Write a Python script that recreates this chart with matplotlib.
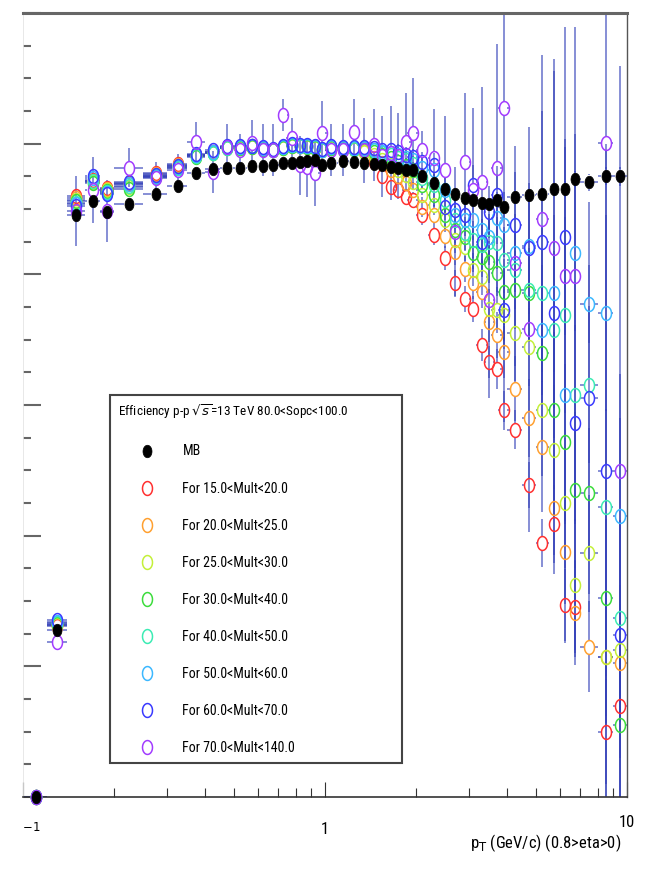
import numpy as np
import matplotlib
matplotlib.use('Agg')
import matplotlib.pyplot as plt
from matplotlib.path import Path
from matplotlib.transforms import Bbox, TransformedBbox, blended_transform_factory
from matplotlib.ticker import FixedLocator, NullFormatter

fams = ['Liberation Sans Narrow', 'Roboto Condensed', 'Open Sans Condensed',
        'DejaVu Sans Condensed', 'Liberation Sans', 'DejaVu Sans']
plt.rcParams['font.family'] = fams

nan = np.nan

# pT bin edges (GeV/c)
edges = [0.10, 0.12, 0.14, 0.16, 0.18, 0.20, 0.25, 0.30, 0.35, 0.40, 0.45,
         0.50, 0.55, 0.60, 0.65, 0.70, 0.75, 0.80, 0.85, 0.90, 0.95, 1.0,
         1.1, 1.2, 1.3, 1.4, 1.5, 1.6, 1.7, 1.8, 1.9, 2.0,
         2.2, 2.4, 2.6, 2.8, 3.0, 3.2, 3.4, 3.6, 3.8, 4.0,
         4.5, 5.0, 5.5, 6.0, 6.5, 7.0, 8.0, 9.0, 10.0]

mb = [0.000, 0.256, 0.891, 0.912, 0.895, 0.908, 0.923, 0.935, 0.955, 0.961,
      0.962, 0.963, 0.966, 0.966, 0.967, 0.970, 0.971, 0.972, 0.973, 0.975,
      0.968, 0.971, 0.973, 0.972, 0.971, 0.969, 0.967, 0.965, 0.962, 0.960,
      0.959, 0.951, 0.940, 0.931, 0.923, 0.917, 0.914, 0.909, 0.908, 0.914,
      0.903, 0.918, 0.921, 0.923, 0.931, 0.931, 0.946, 0.941, 0.950, 0.950]
mb_err = [0.000, 0.008, 0.006, 0.005, 0.005, 0.004, 0.004, 0.004, 0.004, 0.004,
          0.004, 0.004, 0.004, 0.004, 0.004, 0.004, 0.004, 0.004, 0.004, 0.004,
          0.004, 0.004, 0.004, 0.004, 0.004, 0.004, 0.004, 0.004, 0.004, 0.004,
          0.004, 0.005, 0.005, 0.005, 0.006, 0.006, 0.006, 0.007, 0.007, 0.008,
          0.008, 0.009, 0.010, 0.010, 0.011, 0.012, 0.012, 0.013, 0.014, 0.015]

m15_20 = [0.000, 0.262, 0.920, 0.944, 0.932, 0.940, 0.955, 0.969, 0.983, 0.987,
          0.995, 0.995, 0.997, 0.993, 0.990, 0.995, 0.998, 0.997, 0.997, 0.995,
          0.990, 0.995, 0.993, 0.992, 0.990, 0.972, 0.951, 0.934, 0.929, 0.918,
          0.914, 0.891, 0.860, 0.825, 0.787, 0.762, 0.747, 0.692, 0.666, 0.655,
          0.592, 0.562, 0.478, 0.389, 0.418, 0.294, 0.291, nan, 0.100, 0.139]
m15_20_err = [0.000, 0.006, 0.010, 0.010, 0.010, 0.008, 0.008, 0.008, 0.008, 0.008,
              0.008, 0.008, 0.008, 0.008, 0.008, 0.008, 0.008, 0.008, 0.008, 0.008,
              0.008, 0.008, 0.008, 0.008, 0.010, 0.010, 0.010, 0.010, 0.012, 0.012,
              0.012, 0.015, 0.015, 0.018, 0.020, 0.020, 0.020, 0.025, 0.025, 0.030,
              0.030, 0.030, 0.035, 0.037, 0.060, 0.055, 0.070, nan, 0.080, 0.080]

m20_25 = [0.000, 0.263, 0.917, 0.943, 0.931, 0.938, 0.954, 0.967, 0.983, 0.987,
          0.995, 0.993, 0.995, 0.992, 0.990, 0.993, 0.997, 0.996, 0.995, 0.993,
          0.990, 0.993, 0.992, 0.992, 0.987, 0.978, 0.970, 0.960, 0.951, 0.940,
          0.929, 0.903, 0.891, 0.859, 0.834, 0.808, 0.787, 0.773, 0.727, 0.707,
          0.681, 0.625, 0.580, 0.536, 0.442, 0.375, 0.282, 0.230, 0.214, 0.205]
m20_25_err = [0.000, 0.006, 0.010, 0.010, 0.010, 0.008, 0.008, 0.008, 0.008, 0.008,
              0.008, 0.008, 0.008, 0.008, 0.008, 0.008, 0.008, 0.008, 0.008, 0.008,
              0.008, 0.008, 0.008, 0.008, 0.010, 0.010, 0.010, 0.010, 0.012, 0.012,
              0.012, 0.015, 0.015, 0.018, 0.020, 0.020, 0.025, 0.025, 0.030, 0.035,
              0.040, 0.050, 0.060, 0.100, 0.100, 0.080, 0.080, 0.070, 0.090, 0.090]

m25_30 = [0.000, 0.263, 0.914, 0.941, 0.929, 0.934, 0.951, 0.966, 0.981, 0.986,
          0.993, 0.993, 0.995, 0.992, 0.990, 0.993, 0.997, 0.996, 0.995, 0.993,
          0.990, 0.993, 0.992, 0.992, 0.987, 0.983, 0.975, 0.967, 0.960, 0.952,
          0.941, 0.921, 0.906, 0.883, 0.853, 0.842, 0.807, 0.796, 0.747, 0.745,
          0.738, 0.710, 0.689, 0.592, 0.531, 0.450, 0.325, 0.373, 0.214, 0.225]
m25_30_err = [0.000, 0.006, 0.010, 0.010, 0.010, 0.008, 0.008, 0.008, 0.008, 0.008,
              0.008, 0.008, 0.008, 0.008, 0.008, 0.008, 0.008, 0.008, 0.008, 0.008,
              0.008, 0.008, 0.008, 0.008, 0.010, 0.010, 0.010, 0.010, 0.012, 0.012,
              0.012, 0.015, 0.015, 0.018, 0.020, 0.022, 0.025, 0.028, 0.030, 0.035,
              0.040, 0.050, 0.060, 0.100, 0.100, 0.100, 0.100, 0.090, 0.100, 0.100]

m30_40 = [0.000, 0.265, 0.912, 0.940, 0.928, 0.931, 0.949, 0.963, 0.980, 0.986,
          0.993, 0.993, 0.995, 0.992, 0.990, 0.993, 0.997, 0.996, 0.995, 0.993,
          0.990, 0.993, 0.992, 0.992, 0.990, 0.987, 0.983, 0.978, 0.972, 0.966,
          0.960, 0.937, 0.921, 0.891, 0.868, 0.857, 0.833, 0.827, 0.819, 0.802,
          0.773, 0.776, 0.771, 0.680, 0.592, 0.543, 0.470, 0.465, 0.305, 0.110]
m30_40_err = [0.000, 0.006, 0.010, 0.010, 0.010, 0.008, 0.008, 0.008, 0.008, 0.008,
              0.008, 0.008, 0.008, 0.008, 0.008, 0.008, 0.008, 0.008, 0.008, 0.008,
              0.008, 0.008, 0.008, 0.008, 0.010, 0.010, 0.010, 0.010, 0.012, 0.012,
              0.012, 0.015, 0.016, 0.018, 0.020, 0.022, 0.025, 0.030, 0.032, 0.035,
              0.050, 0.060, 0.070, 0.100, 0.120, 0.120, 0.120, 0.100, 0.120, 0.120]

m40_50 = [0.000, 0.266, 0.909, 0.943, 0.926, 0.935, 0.949, 0.963, 0.981, 0.986,
          0.993, 0.995, 0.997, 0.993, 0.990, 0.995, 0.998, 0.997, 0.997, 0.995,
          0.990, 0.995, 0.993, 0.992, 0.992, 0.990, 0.986, 0.983, 0.978, 0.975,
          0.969, 0.947, 0.937, 0.914, 0.883, 0.863, 0.853, 0.845, 0.850, 0.848,
          0.822, 0.807, 0.776, 0.771, 0.715, 0.738, 0.615, 0.631, 0.444, 0.274]
m40_50_err = [0.000, 0.006, 0.010, 0.010, 0.010, 0.008, 0.008, 0.008, 0.008, 0.008,
              0.008, 0.008, 0.008, 0.008, 0.008, 0.008, 0.008, 0.008, 0.008, 0.008,
              0.008, 0.008, 0.008, 0.008, 0.010, 0.010, 0.010, 0.010, 0.012, 0.012,
              0.012, 0.015, 0.016, 0.020, 0.022, 0.025, 0.028, 0.030, 0.035, 0.040,
              0.050, 0.060, 0.080, 0.100, 0.120, 0.150, 0.400, 0.120, 0.150, 0.150]

m50_60 = [0.000, 0.268, 0.908, 0.947, 0.925, 0.938, 0.951, 0.964, 0.983, 0.987,
          0.995, 0.995, 0.997, 0.993, 0.990, 0.995, 0.998, 0.997, 0.997, 0.995,
          0.990, 0.995, 0.993, 0.993, 0.993, 0.990, 0.987, 0.986, 0.983, 0.978,
          0.975, 0.963, 0.960, 0.929, 0.891, 0.883, 0.883, 0.868, 0.857, 0.886,
          0.876, 0.833, 0.843, 0.715, 0.771, 0.615, 0.833, 0.755, 0.741, 0.430]
m50_60_err = [0.000, 0.006, 0.010, 0.010, 0.010, 0.008, 0.008, 0.008, 0.008, 0.008,
              0.008, 0.008, 0.008, 0.008, 0.008, 0.008, 0.008, 0.008, 0.008, 0.008,
              0.008, 0.008, 0.008, 0.008, 0.010, 0.010, 0.010, 0.010, 0.012, 0.012,
              0.012, 0.015, 0.018, 0.020, 0.022, 0.025, 0.030, 0.032, 0.035, 0.040,
              0.050, 0.060, 0.080, 0.100, 0.120, 0.380, 0.120, 0.060, 0.150, 0.150]

m60_70 = [0.000, 0.271, 0.905, 0.950, 0.923, 0.941, 0.952, 0.966, 0.984, 0.990,
          0.997, 0.997, 0.997, 0.995, 0.992, 0.997, 1.000, 0.998, 0.998, 0.997,
          0.992, 0.997, 0.995, 0.995, 0.995, 0.993, 0.990, 0.990, 0.987, 0.983,
          0.980, 0.972, 0.967, 0.903, 0.898, 0.891, 0.937, 0.850, 0.895, 0.921,
          0.745, 0.876, 0.840, 0.850, 0.741, 0.857, 0.572, 0.611, 0.499, 0.248]
m60_70_err = [0.000, 0.006, 0.010, 0.010, 0.010, 0.008, 0.008, 0.008, 0.008, 0.008,
              0.008, 0.008, 0.008, 0.008, 0.008, 0.008, 0.008, 0.008, 0.008, 0.008,
              0.008, 0.008, 0.008, 0.008, 0.010, 0.010, 0.010, 0.010, 0.012, 0.012,
              0.012, 0.015, 0.018, 0.020, 0.025, 0.028, 0.030, 0.035, 0.040, 0.045,
              0.060, 0.080, 0.100, 0.200, 0.370, 0.150, 0.150, 0.300, 0.500, 0.400]

m70_140 = [0.000, 0.237, 0.897, 0.929, 0.897, 0.963, 0.947, 0.960, 1.003, 0.957,
           0.995, 0.990, 1.001, 0.990, 0.990, 1.044, 1.009, 0.967, 0.964, 0.955,
           1.016, 0.990, 0.990, 1.018, 0.990, 0.998, 0.981, 0.986, 0.981, 1.003,
           1.016, 0.990, 0.978, 0.960, 0.865, 0.972, 0.929, 0.941, 0.761, 0.963,
           1.054, 0.817, 0.716, 0.885, 0.840, 0.798, 0.798, nan, 1.001, 0.499]
m70_140_err = [0.000, 0.012, 0.053, 0.050, 0.047, 0.030, 0.025, 0.024, 0.030, 0.032,
               0.035, 0.025, 0.035, 0.040, 0.040, 0.025, 0.030, 0.045, 0.045, 0.050,
               0.050, 0.040, 0.040, 0.050, 0.050, 0.055, 0.062, 0.072, 0.066, 0.075,
               0.085, 0.030, 0.075, 0.083, 0.100, 0.105, 0.125, 0.145, 0.150, 0.190,
               0.480, 0.180, 0.310, 0.250, 0.290, 0.380, 0.380, nan, 1.000, 0.620]

labels = ['For 15.0<Mult<20.0', 'For 20.0<Mult<25.0', 'For 25.0<Mult<30.0',
          'For 30.0<Mult<40.0', 'For 40.0<Mult<50.0', 'For 50.0<Mult<60.0',
          'For 60.0<Mult<70.0', 'For 70.0<Mult<140.0']
colors = ['#ff3030', '#ffa030', '#c4f03a', '#3cdc3c', '#3cecb4', '#3cb8ff',
          '#3a3aff', '#a23cff']
series = [m15_20, m20_25, m25_30, m30_40, m40_50, m50_60, m60_70, m70_140]
errors = [m15_20_err, m20_25_err, m25_30_err, m30_40_err, m40_50_err,
          m50_60_err, m60_70_err, m70_140_err]

e = np.array(edges)
pt = 0.5 * (e[:-1] + e[1:])

# ROOT-like markers, a bit taller than wide
t = np.linspace(0, 2 * np.pi, 41)
ell = Path(np.column_stack([0.72 * np.cos(t), np.sin(t)]), closed=True)

bar_color = '#3340b8'
gap_y = 0.0105   # error bars stop at the marker edge, as ROOT does
gap_x = 1.04


def draw_bars(ax, vals, errs):
    v = np.array(vals, dtype=float)
    er = np.array(errs, dtype=float)
    ok = ~np.isnan(v)
    up = ok & (er > gap_y)
    ax.vlines(pt[up], v[up] + gap_y, v[up] + er[up], color=bar_color,
              lw=1.1, alpha=0.75, zorder=2)
    ax.vlines(pt[up], v[up] - er[up], v[up] - gap_y, color=bar_color,
              lw=1.1, alpha=0.75, zorder=2)
    ax.hlines(v[ok], e[:-1][ok], pt[ok] / gap_x, color=bar_color,
              lw=1.1, alpha=0.75, zorder=2)
    ax.hlines(v[ok], pt[ok] * gap_x, e[1:][ok], color=bar_color,
              lw=1.1, alpha=0.75, zorder=2)


fig = plt.figure(figsize=(6.47, 8.77), dpi=100)
ax = fig.add_axes([23 / 647, 1 - 797 / 877, 604 / 647, 784 / 877])

for vals, errs in zip(series, errors):
    draw_bars(ax, vals, errs)
draw_bars(ax, mb, mb_err)

handles = []
for vals, c in zip(series, colors):
    h, = ax.plot(pt, vals, ls='none', marker=ell, ms=10, mfc='none', mec=c,
                 mew=1.1, zorder=3, clip_on=False)
    handles.append(h)
h_mb, = ax.plot(pt, mb, ls='none', marker=ell, ms=9, mfc='black', mec='black',
                mew=0.5, zorder=4, clip_on=False)

ax.set_xscale('log')
ax.set_xlim(0.1, 10)
ax.set_ylim(0, 1.2)

# axis frame, ROOT style
ax.spines['top'].set_color('#666666')
ax.spines['top'].set_linewidth(2.2)
ax.spines['right'].set_color('#555555')
ax.spines['right'].set_linewidth(1.0)
ax.spines['left'].set_color('#e4e4e4')
ax.spines['left'].set_linewidth(0.6)
ax.spines['bottom'].set_color('#333333')
ax.spines['bottom'].set_linewidth(1.2)

ax.yaxis.set_major_locator(FixedLocator([0, 0.2, 0.4, 0.6, 0.8, 1.0, 1.2]))
ax.yaxis.set_minor_locator(FixedLocator(np.arange(0, 1.21, 0.05)))
ax.yaxis.set_major_formatter(NullFormatter())
ax.tick_params(axis='y', which='major', direction='in', length=13, width=1.5,
               color='#666666', left=True, right=False)
ax.tick_params(axis='y', which='minor', direction='in', length=6, width=1.5,
               color='#666666', left=True, right=False)

ax.xaxis.set_major_locator(FixedLocator([0.1, 1, 10]))
ax.xaxis.set_minor_locator(FixedLocator([0.2, 0.3, 0.4, 0.5, 0.6, 0.7, 0.8, 0.9,
                                         2, 3, 4, 5, 6, 7, 8, 9]))
ax.xaxis.set_major_formatter(NullFormatter())
ax.xaxis.set_minor_formatter(NullFormatter())
ax.tick_params(axis='x', which='major', direction='in', length=11, width=0.8,
               color='#333333', top=False)
ax.tick_params(axis='x', which='minor', direction='in', length=6.5, width=0.8,
               color='#333333', top=False)

# x tick labels, the 10^-1 one is cut by the left edge of the pad
tr = blended_transform_factory(ax.transData, ax.transAxes)
lab0 = ax.text(0.1145, -0.044, r'10$^{-1}$', transform=tr, ha='right',
               va='center', fontsize=12, clip_on=True)
lab0.set_clip_box(TransformedBbox(Bbox.from_extents(0, -0.2, 1, 1), ax.transAxes))
ax.text(1, -0.041, '1', transform=tr, ha='center', va='center', fontsize=12)
ax.text(10, -0.033, '10', transform=tr, ha='center', va='center', fontsize=12)

ax.set_xlabel(r'p$_{\mathrm{T}}$ (GeV/c) (0.8>eta>0)', fontsize=12,
              ha='right', va='center')
ax.xaxis.set_label_coords(0.99, -0.059)

leg = ax.legend([h_mb] + handles, ['MB'] + labels,
                title=r'Efficiency p-p $\sqrt{s}$=13 TeV 80.0<Sopc<100.0',
                loc='upper left', bbox_to_anchor=(110 / 647, 1 - 778 / 877,
                                                  292 / 647, 383 / 877),
                bbox_transform=fig.transFigure, mode='expand', borderaxespad=0,
                fontsize=10, title_fontsize=9.5, alignment='left',
                borderpad=0.55, labelspacing=1.66, handlelength=4.2,
                handletextpad=0.47, numpoints=1, fancybox=False,
                framealpha=1, edgecolor='#444444')
leg.get_frame().set_linewidth(1.5)

fig.savefig('out.png', dpi=100)
